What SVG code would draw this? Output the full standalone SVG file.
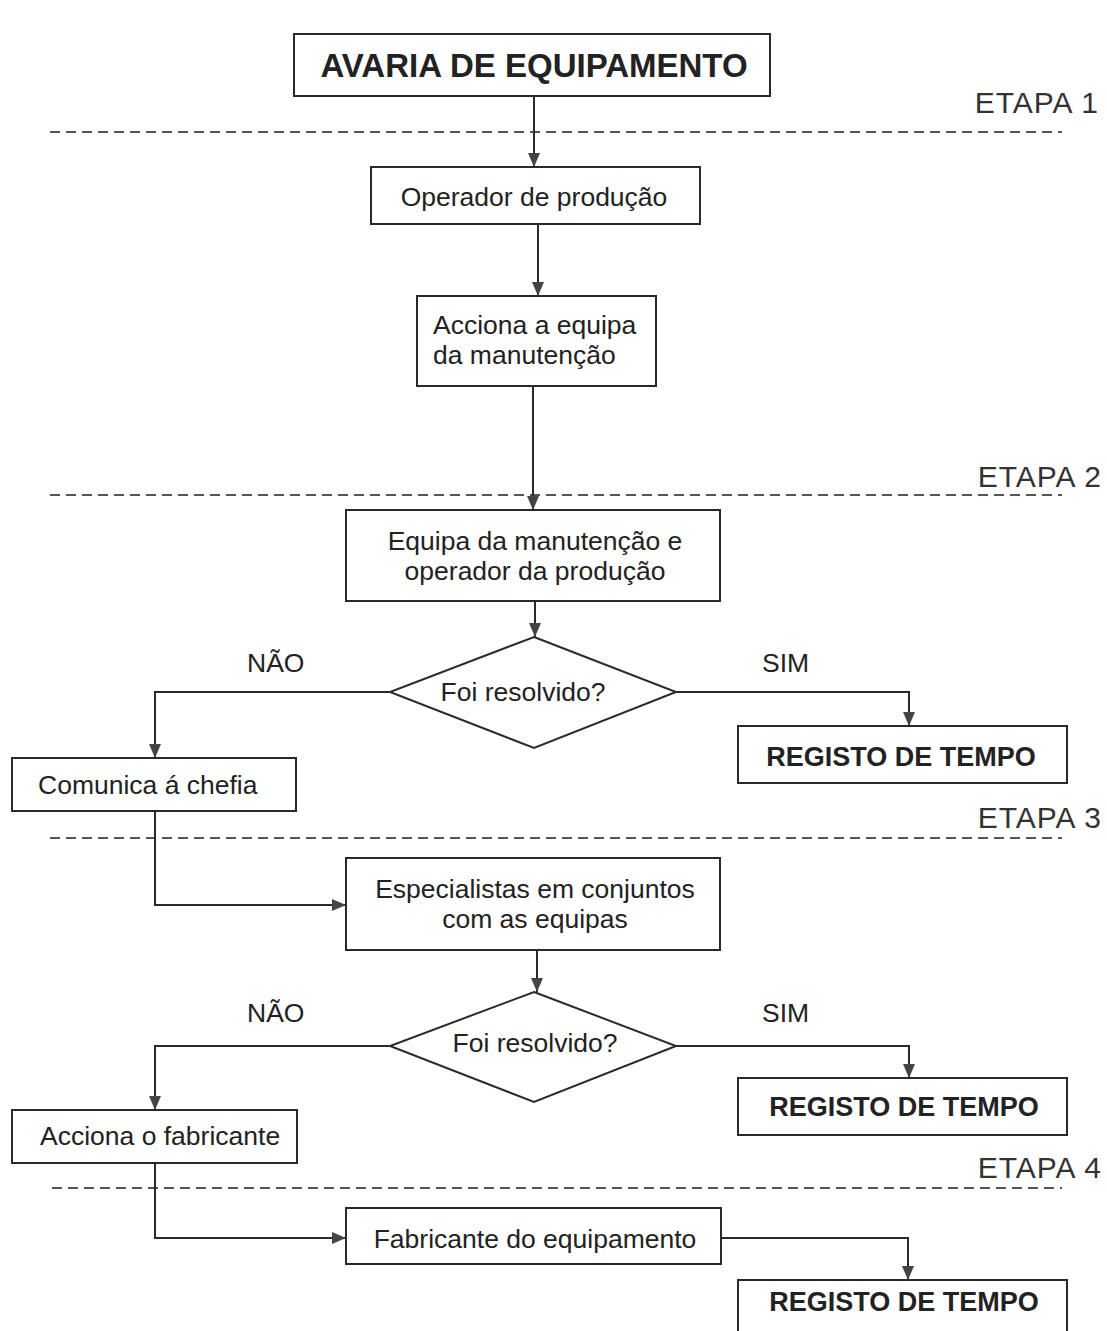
<svg xmlns="http://www.w3.org/2000/svg" width="1107" height="1331" viewBox="0 0 1107 1331">
<style>
.box{fill:#fff;stroke:#2a2a2a;stroke-width:2}
.t{font-family:"Liberation Sans",Arial,sans-serif;font-size:26.5px;fill:#222}
.b{font-weight:bold}
.c{text-anchor:middle}
.r{font-size:27px}
.e{font-family:"Liberation Sans",Arial,sans-serif;font-size:30px;letter-spacing:1px;fill:#333;text-anchor:end}
.dash{stroke:#555;stroke-width:2;stroke-dasharray:10 6;fill:none}
.con{stroke:#2a2a2a;stroke-width:2;fill:none}
</style>
<defs>
<marker id="ah" viewBox="0 0 14 12" refX="14" refY="6" markerWidth="14" markerHeight="12" markerUnits="userSpaceOnUse" orient="auto">
<path d="M0,0 L14,6 L0,12 z" fill="#444"/>
</marker>
</defs>
<rect width="1107" height="1331" fill="#fff"/>

<g id="stages">
<line class="dash" x1="50" y1="132" x2="1062" y2="132"/>
<text class="e" x="1099" y="113">ETAPA 1</text>
<line class="dash" x1="50" y1="495" x2="1062" y2="495"/>
<text class="e" x="1102" y="487">ETAPA 2</text>
<line class="dash" x1="50" y1="838" x2="1062" y2="838"/>
<text class="e" x="1102" y="828">ETAPA 3</text>
<line class="dash" x1="52" y1="1188" x2="1062" y2="1188"/>
<text class="e" x="1102" y="1178">ETAPA 4</text>
</g>

<g id="connectors">
<path class="con" marker-end="url(#ah)" d="M534,96 V167"/>
<path class="con" marker-end="url(#ah)" d="M538,224 V296"/>
<path class="con" marker-end="url(#ah)" d="M533,386 V510"/>
<path class="con" marker-end="url(#ah)" d="M535,601 V637"/>
<path class="con" marker-end="url(#ah)" d="M390,692 H155 V758"/>
<path class="con" marker-end="url(#ah)" d="M676,692 H909 V726"/>
<path class="con" marker-end="url(#ah)" d="M155,811 V905 H346"/>
<path class="con" marker-end="url(#ah)" d="M537,950 V992"/>
<path class="con" marker-end="url(#ah)" d="M390,1046 H155 V1110"/>
<path class="con" marker-end="url(#ah)" d="M676,1046 H909 V1078"/>
<path class="con" marker-end="url(#ah)" d="M155,1163 V1238 H346"/>
<path class="con" marker-end="url(#ah)" d="M721,1238 H908 V1280"/>
<text class="t" x="247" y="672">NÃO</text>
<text class="t" x="762" y="672">SIM</text>
<text class="t" x="247" y="1022">NÃO</text>
<text class="t" x="762" y="1022">SIM</text>
</g>

<g id="n-avaria">
<rect class="box" x="294" y="34" width="476" height="62"/>
<text class="t b c" x="534" y="77" style="font-size:33px">AVARIA DE EQUIPAMENTO</text>
</g>
<g id="n-operador">
<rect class="box" x="371" y="167" width="329" height="57"/>
<text class="t c" x="534" y="206">Operador de produção</text>
</g>
<g id="n-acciona-equipa">
<rect class="box" x="417" y="296" width="239" height="90"/>
<text class="t" x="433" y="334">Acciona a equipa</text>
<text class="t" x="433" y="364">da manutenção</text>
</g>
<g id="n-equipa">
<rect class="box" x="346" y="510" width="374" height="91"/>
<text class="t c" x="535" y="550">Equipa da manutenção e</text>
<text class="t c" x="535" y="580">operador da produção</text>
</g>
<g id="n-dec1">
<polygon class="box" points="534,637 676,692 534,748 390,692"/>
<text class="t c" x="523" y="701">Foi resolvido?</text>
</g>
<g id="n-comunica">
<rect class="box" x="12" y="758" width="284" height="53"/>
<text class="t" x="38" y="794">Comunica á chefia</text>
</g>
<g id="n-registo1">
<rect class="box" x="738" y="726" width="329" height="57"/>
<text class="t b c r" x="901" y="766">REGISTO DE TEMPO</text>
</g>
<g id="n-especialistas">
<rect class="box" x="346" y="858" width="374" height="92"/>
<text class="t c" x="535" y="898">Especialistas em conjuntos</text>
<text class="t c" x="535" y="928">com as equipas</text>
</g>
<g id="n-dec2">
<polygon class="box" points="534,992 676,1046 534,1102 390,1046"/>
<text class="t c" x="535" y="1052">Foi resolvido?</text>
</g>
<g id="n-acciona-fab">
<rect class="box" x="12" y="1110" width="285" height="53"/>
<text class="t" x="40" y="1145">Acciona o fabricante</text>
</g>
<g id="n-registo2">
<rect class="box" x="738" y="1078" width="329" height="57"/>
<text class="t b c r" x="904" y="1116">REGISTO DE TEMPO</text>
</g>
<g id="n-fabricante">
<rect class="box" x="346" y="1208" width="375" height="56"/>
<text class="t c" x="535" y="1248">Fabricante do equipamento</text>
</g>
<g id="n-registo3">
<rect class="box" x="738" y="1280" width="329" height="60"/>
<text class="t b c r" x="904" y="1311">REGISTO DE TEMPO</text>
</g>
</svg>
